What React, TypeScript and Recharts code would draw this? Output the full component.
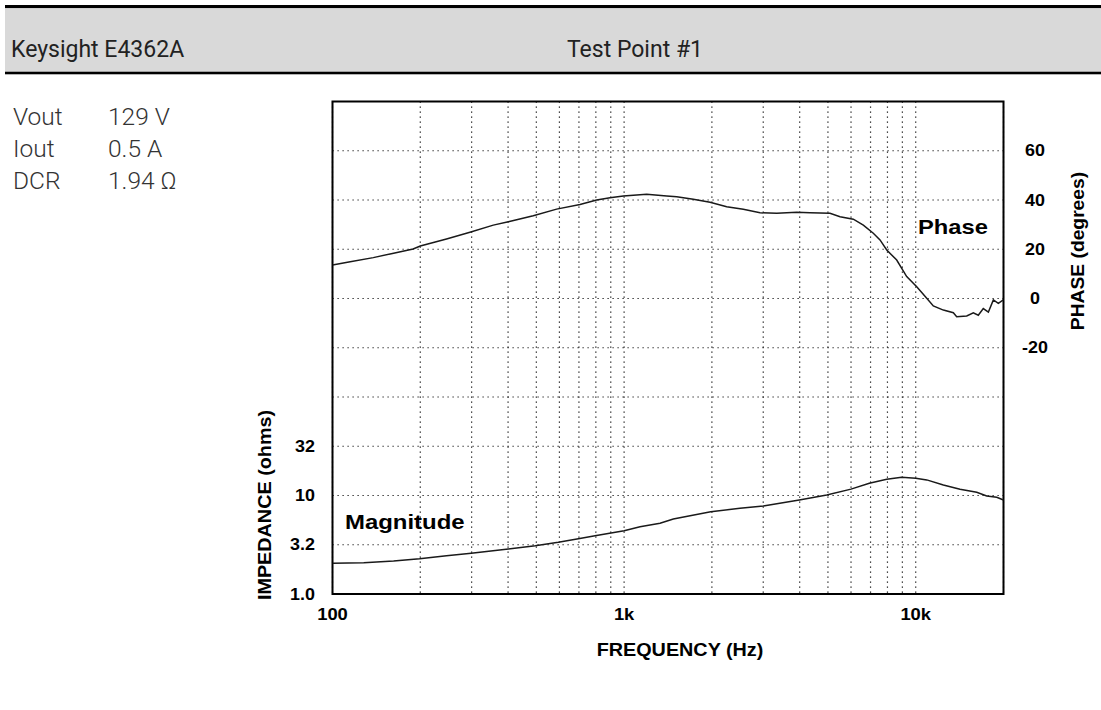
import React from "react";
import {
  ComposedChart,
  Line,
  XAxis,
  YAxis,
  CartesianGrid,
  ReferenceArea,
} from "recharts";

// frequency (Hz) / phase (degrees) trace
const phaseFreq = [
  100, 115, 138, 162, 189, 200, 246, 296, 356, 401, 488, 587, 706, 805, 895,
  994, 1195, 1400, 1515, 1727, 1971, 2248, 2563, 2925, 3338, 3907, 4341, 5082,
  5502, 6109, 6612, 7154, 7543, 7955, 8606, 9313, 10080, 10910, 11490, 12440,
  13460, 13820, 14960, 15760, 16390, 17050, 17750, 18460, 19200, 19970,
];
const phaseDeg = [
  13.6, 14.9, 16.6, 18.4, 20.1, 21.3, 24.2, 26.9, 29.8, 31.2, 33.6, 36.3, 38.2,
  40.0, 40.9, 41.6, 42.3, 41.6, 41.3, 40.3, 39.1, 37.3, 36.2, 34.8, 34.6, 35.0,
  34.8, 34.6, 33.2, 32.2, 29.8, 26.5, 23.8, 19.7, 15.6, 8.9, 4.8, 0.1, -3.0,
  -4.7, -5.8, -7.4, -7.1, -5.8, -6.8, -4.1, -5.5, -0.6, -2.0, -0.6,
];

// frequency (Hz) / impedance magnitude (ohms)
const magFreq = [
  100, 128, 162, 199, 246, 299, 401, 496, 595, 697, 795, 1000, 1134, 1328,
  1475, 1982, 2497, 3002, 3988, 4953, 5999, 6933, 7955, 8950, 10000, 10910,
  12440, 14190, 16190, 17520, 18960, 20000,
];
const magOhm = [
  2.05, 2.08, 2.16, 2.28, 2.45, 2.59, 2.86, 3.09, 3.35, 3.64, 3.91, 4.39, 4.82,
  5.22, 5.77, 6.85, 7.41, 7.82, 9.0, 10.1, 11.6, 13.3, 14.6, 15.3, 15.0, 14.4,
  12.8, 11.6, 10.8, 9.9, 9.6, 9.0,
];

const freqTicks = [
  100, 200, 300, 400, 500, 600, 700, 800, 900, 1000, 2000, 3000, 4000, 5000,
  6000, 7000, 8000, 9000, 10000,
];
const freqLabels: Record<number, string> = { 100: "100", 1000: "1k", 10000: "10k" };

const phaseTicks = [-100, -80, -60, -40, -20, 0, 20, 40, 60];
const impTicks = [1, 3.1623, 10, 31.623];
const impLabels = ["1.0", "3.2", "10", "32"];

const specs = [
  ["Vout", "129 V"],
  ["Iout", "0.5 A"],
  ["DCR", "1.94 Ω"],
];

const phaseData = phaseFreq.map((f, i) => ({ f, p: phaseDeg[i] }));
const magData = magFreq.map((f, i) => ({ f, z: magOhm[i] }));

const AXIS_FONT = "Liberation Sans, Arial, sans-serif";

// the original plot's lettering is stretched sideways, so scale it the same way
function Wide({ x, y, sx = 1.12, rotate = 0, anchor = "start", size = 16, dy, children }: any) {
  return (
    <g transform={`translate(${x} ${y}) rotate(${rotate}) scale(${sx} 1)`}>
      <text
        x={0}
        y={0}
        dy={dy}
        textAnchor={anchor}
        fontFamily={AXIS_FONT}
        fontWeight={700}
        fontSize={size}
        fill="#000"
      >
        {children}
      </text>
    </g>
  );
}

function FreqTick({ x, y, payload }: any) {
  const label = freqLabels[payload.value];
  if (!label) return null;
  return (
    <Wide x={x} y={y} dy="0.71em" anchor="middle" sx={1.15}>
      {label}
    </Wide>
  );
}

function ImpTick({ x, y, payload }: any) {
  const label = impLabels[impTicks.indexOf(payload.value)];
  if (!label) return null;
  return (
    <Wide x={x} y={y} dy="0.355em" anchor="end" sx={1.12}>
      {label}
    </Wide>
  );
}

function PhaseTick({ x, y, payload }: any) {
  if (payload.value < -20) return null;
  return (
    <Wide x={x + 31.5} y={y} dy="0.355em" anchor="middle" sx={1.12}>
      {payload.value}
    </Wide>
  );
}

export default function App() {
  return (
    <div style={{ position: "relative", width: 1101, height: 710, background: "#fff" }}>
      <style>{`body{margin:0}`}</style>
      <svg width={1101} height={710} style={{ position: "absolute", left: 0, top: 0 }}>
        <rect x={5} y={5} width={1096} height={3.3} fill="#000" />
        <rect x={5} y={8.3} width={1096} height={63.4} fill="#d9d9d9" />
        <rect x={5} y={71.7} width={1096} height={2.6} fill="#000" />
        <text x={11} y={57} fontFamily="Roboto" fontSize={23} fill="#222">
          Keysight E4362A
        </text>
        <text x={635} y={57} fontFamily="Roboto" fontSize={23} fill="#222" textAnchor="middle">
          Test Point #1
        </text>
        {specs.map(([k, v], i) => (
          <g key={k} fontFamily="Roboto" fontWeight={300} fontSize={24.5} fill="#333">
            <text x={13} y={125 + i * 32}>{k}</text>
            <text x={108} y={125 + i * 32}>{v}</text>
          </g>
        ))}
      </svg>

      <div style={{ position: "absolute", left: 0, top: 0 }}>
        <ComposedChart
          width={1101}
          height={710}
          margin={{ top: 101.5, right: 37.5, bottom: 56, left: 272.5 }}
        >
          <CartesianGrid
            yAxisId="phase"
            stroke="#111"
            strokeWidth={1.2}
            strokeDasharray="1.2 3.8"
          />
          <XAxis
            dataKey="f"
            type="number"
            scale="log"
            domain={[100, 20000]}
            allowDataOverflow
            ticks={freqTicks}
            interval={0}
            tick={<FreqTick />}
            tickSize={0}
            tickMargin={14.3}
            axisLine={false}
            tickLine={false}
            height={60}
          />
          <YAxis
            yAxisId="imp"
            orientation="left"
            type="number"
            scale="log"
            domain={[1, 100000]}
            allowDataOverflow
            ticks={impTicks}
            interval={0}
            tick={<ImpTick />}
            tickSize={0}
            tickMargin={17.5}
            axisLine={false}
            tickLine={false}
            width={60}
          />
          <YAxis
            yAxisId="phase"
            orientation="right"
            type="number"
            domain={[-120, 80]}
            allowDataOverflow
            ticks={phaseTicks}
            interval={0}
            tick={<PhaseTick />}
            tickSize={0}
            tickMargin={0}
            axisLine={false}
            tickLine={false}
            width={60}
          />
          <ReferenceArea
            yAxisId="phase"
            x1={100}
            x2={20000}
            y1={-120}
            y2={80}
            fill="none"
            stroke="#000"
            strokeWidth={2}
            ifOverflow="visible"
          />
          <Line
            yAxisId="phase"
            data={phaseData}
            dataKey="p"
            type="linear"
            stroke="#1a1a1a"
            strokeWidth={1.5}
            dot={false}
            isAnimationActive={false}
          />
          <Line
            yAxisId="imp"
            data={magData}
            dataKey="z"
            type="linear"
            stroke="#1a1a1a"
            strokeWidth={1.5}
            dot={false}
            isAnimationActive={false}
          />
        </ComposedChart>
      </div>

      <svg
        width={1101}
        height={710}
        style={{ position: "absolute", left: 0, top: 0, pointerEvents: "none" }}
      >
        <Wide x={680} y={655.7} size={18} sx={1.1} anchor="middle">
          FREQUENCY (Hz)
        </Wide>
        <Wide x={271} y={505} size={18} sx={1.1} rotate={-90} anchor="middle">
          IMPEDANCE (ohms)
        </Wide>
        <Wide x={1084} y={251} size={18} sx={1.07} rotate={-90} anchor="middle">
          PHASE (degrees)
        </Wide>
        <Wide x={345} y={529} size={21} sx={1.14}>
          Magnitude
        </Wide>
        <Wide x={918} y={234} size={21} sx={1.13}>
          Phase
        </Wide>
      </svg>
    </div>
  );
}
